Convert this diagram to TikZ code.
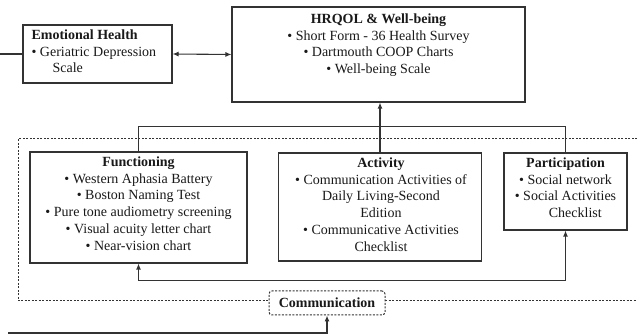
\documentclass[tikz,border=0pt]{standalone}
\usepackage{fontspec}
\setmainfont{Liberation Serif}
\usetikzlibrary{arrows.meta}
\begin{document}
\begin{tikzpicture}[x=1pt,y=-1pt,
  line width=1.1pt, draw=black!80,
  box/.style={draw=black!80, line width=1.1pt, inner sep=0pt, fill=white},
  txt/.style={inner sep=0pt, text=black!90, font=\fontsize{14}{16.8}\selectfont},
  dots/.style={draw=black!80, line width=1pt, dash pattern=on 2pt off 1.5pt},
  tip/.style={-{Latex[length=6pt,width=5pt]}},
  tips/.style={{Latex[length=6pt,width=5pt]}-{Latex[length=6pt,width=5pt]}}]
\useasboundingbox (0,0) rectangle (637,336);

% dotted frame around the communication domains (open on the right)
\draw[dots] (637,139) -- (18,139) -- (18,301) -- (637,301);

% boxes
\node[box, minimum width=149pt, minimum height=58pt] (eh) at (97.5,54) {};
\node[box, minimum width=293pt, minimum height=95pt] (hrqol) at (378.5,54.5) {};
\node[box, minimum width=217pt, minimum height=111pt] (func) at (138.5,207.5) {};
\node[box, minimum width=203pt, minimum height=108pt] (act) at (380,207) {};
\node[box, minimum width=123pt, minimum height=77pt] (part) at (565.5,191.5) {};
\node[box, dots, rounded corners=3pt, minimum width=116pt, minimum height=24pt,
      text=black!90, font=\fontsize{14}{16.8}\selectfont\bfseries] (comm) at (327,303) {Communication};

% box texts
\node[txt, align=left, anchor=north west] (ehT) at (31,29)
  {\textbf{Emotional Health}\\ • Geriatric Depression\\ \hspace*{1.5em}Scale};
\node[txt, align=center, anchor=north] (hrqolT) at (378.5,13)
  {\textbf{HRQOL \& Well-being}\\ • Short Form - 36 Health Survey\\
   • Dartmouth COOP Charts\\ • Well-being Scale};
\node[txt, align=center, anchor=north] (funcT) at (138.5,156)
  {\textbf{Functioning}\\ • Western Aphasia Battery\\ • Boston Naming Test\\
   • Pure tone audiometry screening\\ • Visual acuity letter chart\\ • Near-vision chart};
\node[txt, align=center, anchor=north] (actT) at (381,157)
  {\textbf{Activity}\\ • Communication Activities of\\ Daily Living-Second\\
   Edition\\ • Communicative Activities\\ Checklist};
\node[txt, align=center, anchor=north] (partT) at (565.5,157)
  {\textbf{Participation}\\ • Social network\\ • Social Activities\\ \hspace*{1.4em}Checklist};

% connectors
\coordinate (ehIn) at (0,54);
\coordinate (commIn) at (8,333);
\draw (ehIn) -- (eh.west);
\draw[tips] (eh.east) -- (hrqol.west);
\draw[tip] (act.north) -- (act.north |- hrqol.south);
\draw (func.north) -- ++(0,-25) -| (part.north);
\draw[tips] (func.south) -- ++(0,17) -| (part.south);
\draw[tip] (commIn) -| (comm.south);
\end{tikzpicture}
\end{document}
